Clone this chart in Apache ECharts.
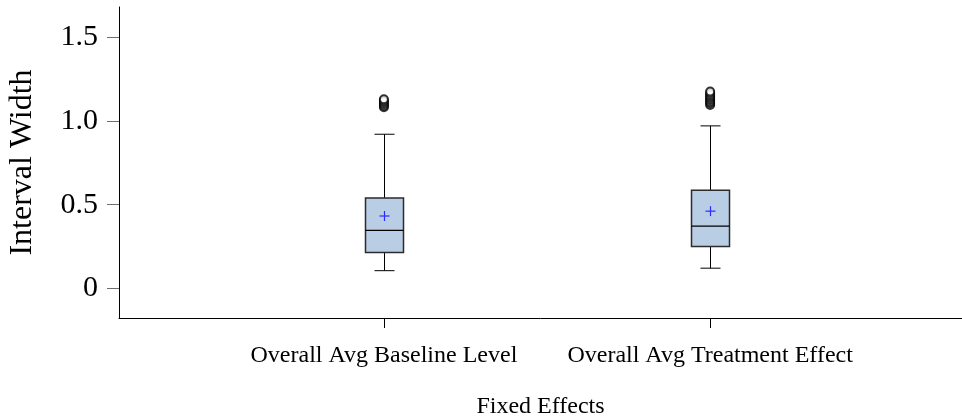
<!DOCTYPE html>
<html>
<head>
<meta charset="utf-8">
<script src="https://cdn.jsdelivr.net/npm/echarts@6/dist/echarts.min.js"></script>
<style>
  html, body { margin: 0; padding: 0; background: #fff; }
  #chart { width: 962px; height: 419px; }
</style>
</head>
<body>
<div id="chart"></div>
<script>
// Interval width distributions for the two fixed effects
const categories = ['Overall Avg Baseline Level', 'Overall Avg Treatment Effect'];
const whiskerLow = [0.105, 0.120];
const quartile1 = [0.214, 0.249];
const medians = [0.346, 0.371];
const quartile3 = [0.540, 0.586];
const whiskerHigh = [0.921, 0.971];
const means = [0.432, 0.461];
const outliersBaseline = [1.082, 1.092, 1.102, 1.112, 1.121, 1.130];
const outliersTreatment = [1.096, 1.106, 1.116, 1.126, 1.136, 1.146, 1.156, 1.166, 1.176];
const yTicks = [0, 0.5, 1.0, 1.5];

const FONT = '"Liberation Serif", "Times New Roman", serif';

// categories sit at positions 1, 2 on a numeric x scale
const boxData = categories.map((c, i) => [
  i + 1, whiskerLow[i], quartile1[i], medians[i], quartile3[i], whiskerHigh[i], means[i]
]);
const outlierData = [];
outliersBaseline.forEach(v => outlierData.push([1, v]));
outliersTreatment.forEach(v => outlierData.push([2, v]));

function renderBox(params, api) {
  const x = api.value(0);
  const pLo = api.coord([x, api.value(1)]);
  const pQ1 = api.coord([x, api.value(2)]);
  const pMed = api.coord([x, api.value(3)]);
  const pQ3 = api.coord([x, api.value(4)]);
  const pHi = api.coord([x, api.value(5)]);
  const pMean = api.coord([x, api.value(6)]);
  const cx = Math.round(pMed[0]) + 0.5;
  const halfBox = 19, halfCap = 10, halfPlus = 5;
  const line = (x1, y1, x2, y2, color, w) => ({
    type: 'line',
    shape: { x1, y1, x2, y2 },
    style: { stroke: color, lineWidth: w }
  });
  return {
    type: 'group',
    children: [
      line(cx, pHi[1], cx, pQ3[1], '#000', 1),
      line(cx, pQ1[1], cx, pLo[1], '#000', 1),
      line(cx - halfCap, pHi[1], cx + halfCap, pHi[1], '#000', 1),
      line(cx - halfCap, pLo[1], cx + halfCap, pLo[1], '#000', 1),
      {
        type: 'rect',
        shape: { x: cx - halfBox, y: pQ3[1], width: halfBox * 2, height: pQ1[1] - pQ3[1] },
        style: { fill: '#b9cde5', stroke: '#2b2b2b', lineWidth: 1.5 }
      },
      line(cx - halfBox, pMed[1], cx + halfBox, pMed[1], '#000', 1.3),
      line(cx - halfPlus, pMean[1], cx + halfPlus, pMean[1], '#2b2bff', 1.2),
      line(cx, pMean[1] - halfPlus, cx, pMean[1] + halfPlus, '#2b2bff', 1.2)
    ]
  };
}

const chart = echarts.init(document.getElementById('chart'), null, { renderer: 'canvas' });
chart.setOption({
  animation: false,
  backgroundColor: '#fff',
  grid: { left: 119, right: 0, top: 7, bottom: 101, containLabel: false, outerBoundsMode: 'none' },
  xAxis: {
    type: 'value',
    min: 0.188,
    max: 2.772,
    name: 'Fixed Effects',
    nameLocation: 'middle',
    nameGap: 77,
    nameTextStyle: { fontFamily: FONT, fontSize: 24, color: '#000' },
    splitLine: { show: false },
    axisLine: { show: true, onZero: false, lineStyle: { color: '#000', width: 1 } },
    axisTick: { show: true, customValues: [1, 2], length: 10, lineStyle: { color: '#000' } },
    axisLabel: {
      customValues: [1, 2],
      margin: 26,
      fontFamily: FONT,
      fontSize: 24,
      color: '#000',
      formatter: v => categories[Math.round(v) - 1] || ''
    }
  },
  yAxis: {
    type: 'value',
    min: -0.178,
    max: 1.682,
    name: 'Interval Width',
    nameLocation: 'middle',
    nameGap: 80,
    nameTextStyle: { fontFamily: FONT, fontSize: 32, color: '#000' },
    splitLine: { show: false },
    axisLine: { show: true, onZero: false, lineStyle: { color: '#000', width: 1 } },
    axisTick: { show: true, customValues: yTicks, length: 12, lineStyle: { color: '#6e6e6e' } },
    axisLabel: {
      customValues: yTicks,
      margin: 21,
      fontFamily: FONT,
      fontSize: 30,
      color: '#000',
      formatter: v => (v === 0 ? '0' : v.toFixed(1))
    }
  },
  series: [
    {
      type: 'custom',
      renderItem: renderBox,
      data: boxData,
      encode: { x: 0, y: [1, 2, 3, 4, 5, 6] },
      z: 2
    },
    {
      type: 'scatter',
      data: outlierData,
      symbol: 'emptyCircle',
      symbolSize: 8,
      itemStyle: { color: '#000', borderColor: '#000', borderWidth: 1.5 },
      z: 3
    }
  ]
});
</script>
</body>
</html>
